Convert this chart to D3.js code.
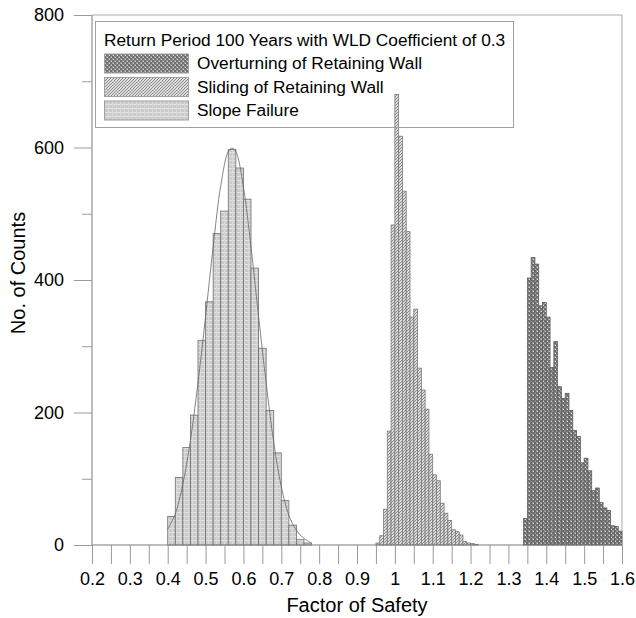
<!DOCTYPE html>
<html>
<head>
<meta charset="utf-8">
<script src="https://cdn.jsdelivr.net/npm/d3@7"></script>
<style>
  body { margin: 0; background: #fff; }
  text { font-family: "Liberation Sans", Arial, sans-serif; fill: #000; }
</style>
</head>
<body>
<script>
// histogram bins (lower edge of each bin) and counts
var slopeBins = [0.40, 0.42, 0.44, 0.46, 0.48, 0.50, 0.52, 0.54, 0.56, 0.58,
                 0.60, 0.62, 0.64, 0.66, 0.68, 0.70, 0.72, 0.74, 0.76];
var slopeCounts = [43, 102, 147, 196, 309, 367, 470, 504, 597, 569,
                   522, 418, 297, 203, 139, 67, 30, 8, 3];
var slopeWidth = 0.02;

var slidingBins = [0.95, 0.96, 0.97, 0.98, 0.99, 1.00, 1.01, 1.02, 1.03, 1.04,
                   1.05, 1.06, 1.07, 1.08, 1.09, 1.10, 1.11, 1.12, 1.13, 1.14,
                   1.15, 1.16, 1.17, 1.18, 1.19, 1.20, 1.21];
var slidingCounts = [3, 14, 54, 172, 483, 680, 617, 534, 473, 344,
                     356, 267, 234, 205, 137, 106, 97, 63, 48, 37,
                     23, 20, 15, 5, 3, 2, 1];
var slidingWidth = 0.01;

var overBins = [1.34, 1.35, 1.36, 1.37, 1.38, 1.39, 1.40, 1.41, 1.42, 1.43,
                1.44, 1.45, 1.46, 1.47, 1.48, 1.49, 1.50, 1.51, 1.52, 1.53,
                1.54, 1.55, 1.56, 1.57, 1.58, 1.59];
var overCounts = [40, 403, 434, 424, 361, 366, 344, 268, 307, 239,
                  221, 229, 203, 173, 164, 124, 131, 112, 82, 86,
                  64, 56, 52, 29, 28, 21];
var overWidth = 0.01;

// fitted curve over the slope failure histogram
var curveX = [0.40, 0.42, 0.44, 0.46, 0.48, 0.50, 0.52, 0.54, 0.56, 0.57,
              0.58, 0.60, 0.62, 0.64, 0.66, 0.68, 0.70, 0.72, 0.74, 0.76, 0.78];
var curveY = [24, 47, 92, 158, 245, 345, 450, 542, 594, 599,
              594, 540, 450, 345, 245, 155, 88, 45, 22, 10, 3];

var xTicks = [0.2, 0.25, 0.3, 0.35, 0.4, 0.45, 0.5, 0.55, 0.6, 0.65, 0.7, 0.75,
              0.8, 0.85, 0.9, 0.95, 1.0, 1.05, 1.1, 1.15, 1.2, 1.25, 1.3, 1.35,
              1.4, 1.45, 1.5, 1.55, 1.6];
var xLabels = ["0.2", "0.3", "0.4", "0.5", "0.6", "0.7", "0.8", "0.9", "1",
               "1.1", "1.2", "1.3", "1.4", "1.5", "1.6"];
var yMajor = [0, 200, 400, 600, 800];
var yMinor = [100, 300, 500, 700];

var legendTitle = "Return Period 100 Years with WLD Coefficient of 0.3";
var seriesNames = ["Overturning of Retaining Wall", "Sliding of Retaining Wall", "Slope Failure"];

var size = ({ width: 636, height: 618 });
var plot = ({ left: 92, right: 622, top: 15, bottom: 545 });

var svg = d3.select("body").append("svg")
            .attr("width", size.width)
            .attr("height", size.height);

// fill patterns
var defs = svg.append("defs");

var pSlope = defs.append("pattern").attr("id", "pSlope")
                 .attr("patternUnits", "userSpaceOnUse").attr("width", 4).attr("height", 4);
pSlope.append("rect").attr("width", 4).attr("height", 4).attr("fill", "#cbcbcb");
pSlope.append("rect").attr("width", 4).attr("height", 1).attr("fill", "#e2e2e2");
pSlope.append("rect").attr("width", 1).attr("height", 4).attr("fill", "#dadada");

var pSlide = defs.append("pattern").attr("id", "pSlide")
                 .attr("patternUnits", "userSpaceOnUse").attr("width", 3).attr("height", 3);
pSlide.append("rect").attr("width", 3).attr("height", 3).attr("fill", "#dcdcdc");
pSlide.append("path").attr("d", "M0,3L3,0M-1,1L1,-1M2,4L4,2")
      .attr("stroke", "#8c8c8c").attr("stroke-width", 1);

var pOver = defs.append("pattern").attr("id", "pOver")
                .attr("patternUnits", "userSpaceOnUse").attr("width", 4).attr("height", 4);
pOver.append("rect").attr("width", 4).attr("height", 4).attr("fill", "#929292");
pOver.append("rect").attr("width", 2).attr("height", 2).attr("fill", "#6e6e6e");
pOver.append("rect").attr("x", 2).attr("y", 2).attr("width", 2).attr("height", 2).attr("fill", "#6e6e6e");
pOver.append("rect").attr("x", 3).attr("y", 1).attr("width", 1).attr("height", 1).attr("fill", "#dcdcdc");
pOver.append("rect").attr("x", 1).attr("y", 3).attr("width", 1).attr("height", 1).attr("fill", "#dcdcdc");

var x_scale = d3.scaleLinear().domain([0.2, 1.6]).range([plot.left, plot.right]);
var y_scale = d3.scaleLinear().domain([0, 800]).range([plot.bottom, plot.top]);

// frame (top and right)
svg.append("path")
   .attr("d", "M" + plot.left + "," + plot.top + "H" + plot.right + "V" + plot.bottom)
   .attr("fill", "none").attr("stroke", "#aaa").attr("stroke-width", 1);

function drawHist(bins, counts, width, fill, stroke) {
  svg.append("g").selectAll("rect")
     .data(bins)
     .enter()
     .append("rect")
     .attr("x", (d) => x_scale(d))
     .attr("y", (d, i) => y_scale(counts[i]))
     .attr("width", (d) => x_scale(d + width) - x_scale(d))
     .attr("height", (d, i) => y_scale(0) - y_scale(counts[i]))
     .attr("fill", fill)
     .attr("stroke", stroke)
     .attr("stroke-width", 0.8);
}

drawHist(slopeBins, slopeCounts, slopeWidth, "url(#pSlope)", "#6e6e6e");
drawHist(slidingBins, slidingCounts, slidingWidth, "url(#pSlide)", "#7a7a7a");
drawHist(overBins, overCounts, overWidth, "url(#pOver)", "#5e5e5e");

var line = d3.line()
             .x((d, i) => x_scale(curveX[i]))
             .y((d) => y_scale(d))
             .curve(d3.curveCatmullRom);
svg.append("path")
   .attr("d", line(curveY))
   .attr("fill", "none")
   .attr("stroke", "#666")
   .attr("stroke-width", 0.8);

// axes
var xAxis = d3.axisBottom(x_scale)
              .tickValues(xTicks)
              .tickSize(19)
              .tickPadding(8)
              .tickFormat((d) => {
                var s = String(+d.toFixed(2));
                return xLabels.indexOf(s) >= 0 ? s : "";
              });
var gx = svg.append("g")
            .attr("transform", "translate(0," + plot.bottom + ")")
            .call(xAxis);

var gy = svg.append("g")
            .attr("transform", "translate(" + plot.left + ",0)")
            .call(d3.axisLeft(y_scale).tickValues(yMajor).tickSize(18).tickPadding(10).tickFormat(d3.format("d")));
var gy2 = svg.append("g")
             .attr("transform", "translate(" + plot.left + ",0)")
             .call(d3.axisLeft(y_scale).tickValues(yMinor).tickSize(10).tickFormat(""));

[gx, gy, gy2].forEach((g) => {
  g.select(".domain").attr("stroke", "#7a7a7a");
  g.selectAll(".tick line").attr("stroke", "#9a9a9a");
  g.selectAll(".tick text").style("font-size", "18px").attr("fill", "#000");
});
gx.select(".domain").attr("d", "M" + plot.left + ",0H" + plot.right);
gy.select(".domain").attr("d", "M0," + plot.top + "V" + plot.bottom);
gy2.select(".domain").remove();

svg.append("text")
   .attr("x", 357)
   .attr("y", 612)
   .attr("text-anchor", "middle")
   .style("font-size", "20px")
   .text("Factor of Safety");

svg.append("text")
   .attr("transform", "translate(25," + 273 + ") rotate(-90)")
   .attr("text-anchor", "middle")
   .style("font-size", "20px")
   .text("No. of Counts");

// legend
var lg = svg.append("g");
lg.append("rect")
  .attr("x", 95.5).attr("y", 21.5).attr("width", 418).attr("height", 106)
  .attr("fill", "none").attr("stroke", "#a0a0a0");
lg.append("text")
  .attr("x", 104).attr("y", 46)
  .style("font-size", "17.3px")
  .text(legendTitle);

var swFills = ["url(#pOver)", "url(#pSlide)", "url(#pSlope)"];
seriesNames.forEach((name, i) => {
  var yy = 54 + i * 23.5;
  lg.append("rect")
    .attr("x", 104.5).attr("y", yy).attr("width", 84).attr("height", 19)
    .attr("fill", swFills[i]).attr("stroke", "#a0a0a0");
  lg.append("text")
    .attr("x", 197).attr("y", yy + 15)
    .style("font-size", "17.3px")
    .text(name);
});
</script>
</body>
</html>
